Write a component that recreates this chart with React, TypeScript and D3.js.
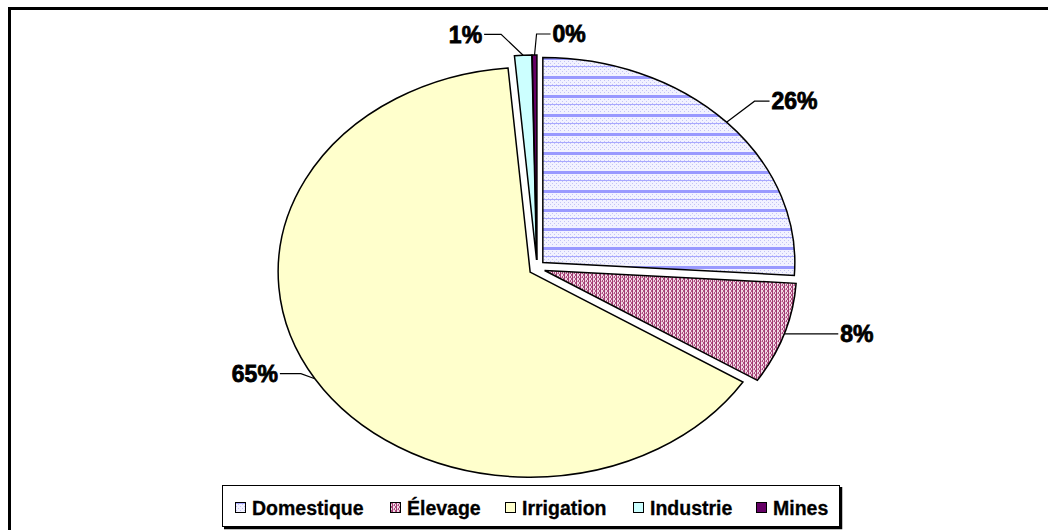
import React from "react";
import * as d3 from "d3";

const categories = ["Domestique", "Élevage", "Irrigation", "Industrie", "Mines"];
const values = [26.0, 8.0, 64.6, 1.1, 0.3];

const W = 1048;
const H = 530;
const CX = 537;
const CY = 268;
const RX = 252;
const RY = 205;
const EXPLODE = 8;

// leader layout: elbow offset from anchor on rim, then horizontal run
const leaderLayout = [
  { ex: 28, ey: -21, run: 15 },
  { ex: 27, ey: 0, run: 27 },
  { ex: -14, ey: -5, run: -21 },
  { ex: -22, ey: -21, run: -17 },
  { ex: 2, ey: -21, run: 14 },
];

const legendX = [235, 390, 505, 633, 756];

export default function App() {
  const total = d3.sum(values);
  const arcs = d3
    .pie<number>()
    .sort(null)
    .startAngle(0)
    .endAngle(2 * Math.PI)
    .padAngle(0)(values);

  const fills = ["url(#pDom)", "url(#pElev)", "#FFFFCC", "#CCFFFF", "#660066"];

  const slices = arcs.map((a, i) => {
    const m = (a.startAngle + a.endAngle) / 2;
    const vx = CX + EXPLODE * Math.sin(m);
    const vy = CY - EXPLODE * Math.cos(m);
    const p0 = [vx + RX * Math.sin(a.startAngle), vy - RY * Math.cos(a.startAngle)];
    const p1 = [vx + RX * Math.sin(a.endAngle), vy - RY * Math.cos(a.endAngle)];
    const large = a.endAngle - a.startAngle > Math.PI ? 1 : 0;
    const d = `M${vx},${vy}L${p0[0]},${p0[1]}A${RX},${RY} 0 ${large} 1 ${p1[0]},${p1[1]}Z`;
    const anchor = [vx + RX * Math.sin(m), vy - RY * Math.cos(m)];
    const pct = Math.round((values[i] / total) * 100) + "%";
    return { d, anchor, pct, i };
  });

  return (
    <svg
      width={W}
      height={H}
      style={{ position: "absolute", left: 0, top: 0, background: "#fff" }}
      fontFamily="'Liberation Sans', Arial, sans-serif"
    >
      <defs>
        <pattern id="pDom" width="4" height="19" patternUnits="userSpaceOnUse">
          <rect width="4" height="19" fill="#f2f2ff" />
          <rect x="0" y="0" width="1" height="1" fill="#c4c4f4" />
          <rect x="2" y="2" width="1" height="1" fill="#c4c4f4" />
          <rect x="0" y="4" width="1" height="1" fill="#c4c4f4" />
          <rect x="2" y="6" width="1" height="1" fill="#c4c4f4" />
          <rect x="0" y="8" width="1" height="1" fill="#c4c4f4" />
          <rect x="2" y="10" width="1" height="1" fill="#c4c4f4" />
          <rect x="0" y="12" width="1" height="1" fill="#c4c4f4" />
          <rect x="2" y="14" width="1" height="1" fill="#c4c4f4" />
          <rect x="0" y="16" width="1" height="1" fill="#c4c4f4" />
          <rect x="0" y="0" width="4" height="3" fill="#9999FF" />
          <rect x="0" y="9" width="4" height="1" fill="#a8a8ff" />
        </pattern>
        <pattern id="pElev" width="4" height="4" patternUnits="userSpaceOnUse">
          <rect width="4" height="4" fill="#f0d8e4" />
          <rect x="0" y="0" width="1" height="4" fill="#a03c72" />
          <rect x="2" y="0" width="1" height="2" fill="#b04f82" />
          <rect x="3" y="2" width="1" height="2" fill="#b04f82" />
          <rect x="1" y="1" width="1" height="1" fill="#d49ab6" />
        </pattern>
      </defs>

      {/* outer frame */}
      <path d={`M9.5,${H}V8.5H${W}`} fill="none" stroke="#000" strokeWidth={3} />

      {slices.map((s) => (
        <path key={s.i} d={s.d} fill={fills[s.i]} stroke="#000" strokeWidth={1.5} strokeLinejoin="miter" />
      ))}

      {slices.map((s) => {
        const L = leaderLayout[s.i];
        const [ax, ay] = s.anchor;
        const bx = ax + L.ex;
        const by = ay + L.ey;
        const cx = bx + L.run;
        const right = L.run > 0;
        return (
          <g key={"l" + s.i}>
            <polyline
              points={`${ax},${ay} ${bx},${by} ${cx},${by}`}
              fill="none"
              stroke="#000"
              strokeWidth={1.2}
            />
            <text
              x={right ? cx + 2 : cx - 2}
              y={by}
              dy="0.36em"
              textAnchor={right ? "start" : "end"}
              fontSize={23}
              fontWeight="bold"
              fill="#000"
              stroke="#000"
              strokeWidth={0.8}
            >
              {s.pct}
            </text>
          </g>
        );
      })}

      {/* legend */}
      <rect x={222.5} y={485.5} width={617} height={41} fill="#fff" stroke="#000" strokeWidth={1} />
      <path d="M224,528 H841 V487" fill="none" stroke="#000" strokeWidth={2.5} />
      {categories.map((c, i) => (
        <g key={"lg" + i}>
          <rect
            x={legendX[i] + 0.5}
            y={502.5}
            width={10}
            height={10}
            fill={fills[i]}
            stroke="#000"
            strokeWidth={1}
          />
          <text
            x={legendX[i] + 17}
            y={508}
            dy="0.36em"
            fontSize={19.5}
            fontWeight="bold"
            fill="#000"
            stroke="#000"
            strokeWidth={0.3}
          >
            {c}
          </text>
        </g>
      ))}
    </svg>
  );
}
